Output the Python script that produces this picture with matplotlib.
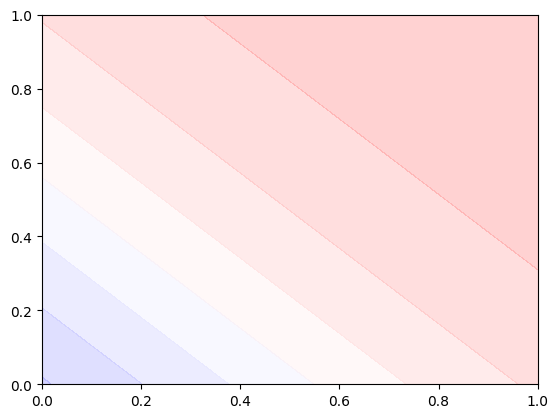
import numpy as np
import matplotlib
matplotlib.use('Agg')
import matplotlib.pyplot as plt

# field is a tilted plane: z = kx*x + ky*y
kx = 1.02
ky = 1.0
# contour boundaries (values of z)
levels = [-0.1, 0.02, 0.207, 0.385, 0.56, 0.75, 0.98, 1.33, 2.2]

x = np.linspace(0, 1, 200)
y = np.linspace(0, 1, 200)
X, Y = np.meshgrid(x, y)
Z = kx * X + ky * Y

nb = len(levels) - 1
band_colors = [plt.cm.bwr((i + 0.5) / nb) for i in range(nb)]

fig, ax = plt.subplots(figsize=(6.4, 4.8), dpi=100)
ax.contourf(X, Y, Z, levels=levels, colors=band_colors, alpha=0.2)
ax.set_xlim(0, 1)
ax.set_ylim(0, 1)

fig.savefig('out.png', bbox_inches='tight')
